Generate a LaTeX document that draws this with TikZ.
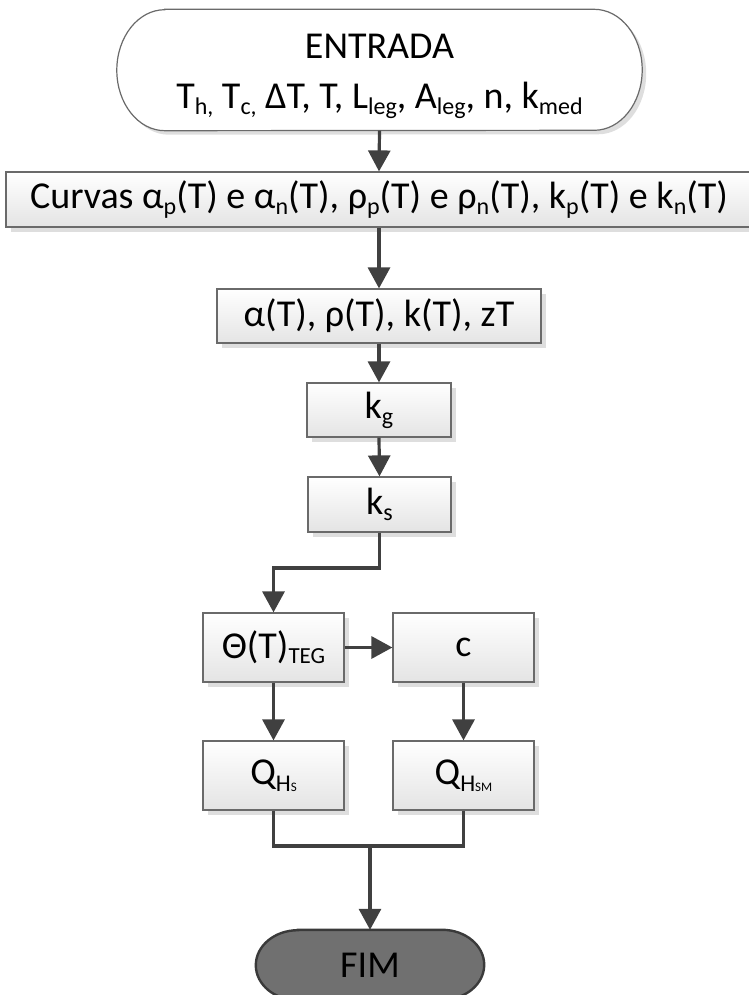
\documentclass[tikz,border=0pt]{standalone}
\usepackage{fontspec}
\setmainfont{Carlito}
\usetikzlibrary{arrows.meta,backgrounds,calc}

\definecolor{lineC}{HTML}{404040}
\definecolor{boxEdge}{HTML}{6A6A6A}
\definecolor{boxBot}{HTML}{E4E4E4}
\definecolor{shadowC}{HTML}{DEDEDE}
\definecolor{fimFill}{HTML}{707070}
\definecolor{fimEdge}{HTML}{3A3A3A}

% lowered, smaller text for indices
\newcommand\dsub[1]{\raisebox{-6pt}{\fontsize{24}{24}\selectfont #1}}
\newcommand\qsub[2]{\raisebox{-7pt}{\fontsize{24}{24}\selectfont #1\fontsize{13}{13}\selectfont #2}}

\tikzset{
  base font/.style={font=\fontsize{38}{50}\selectfont, inner sep=0pt},
  procbox/.style={base font, draw=boxEdge, line width=1.2pt,
    top color=white, bottom color=boxBot, shading angle=0,
    preaction={fill=shadowC, transform canvas={shift={(5pt,-5pt)}}}},
  termtext/.style={base font, align=center},
  flow/.style={draw=lineC, line width=3.2pt,
    -{Triangle[length=21pt,width=22pt]}},
  link/.style={draw=lineC, line width=3.2pt}
}

% stadium outline with elliptical ends, drawn around a node
\newcommand\stadium[4]{% node, x radius, half height, options
  \path[#4] ($(#1.north west)+(#2,0)$) -- ($(#1.north east)-(#2,0)$)
    arc[start angle=90, end angle=-90, x radius=#2, y radius=#3]
    -- ($(#1.south west)+(#2,0)$)
    arc[start angle=270, end angle=90, x radius=#2, y radius=#3] -- cycle;}

\begin{document}
\begin{tikzpicture}[x=1pt,y=1pt]
\useasboundingbox (0,0) rectangle (748,-995);

% terminal shapes (outline frames) and their labels
\node[base font, minimum width=525pt, minimum height=121pt] (ent) at (379.5,-70) {};
\node[base font, minimum width=228pt, minimum height=70pt] (fim) at (370,-965) {};

% process boxes
\node[procbox, minimum width=746pt, minimum height=55pt] (cur) at (379,-199.5)
  {Curvas α\dsub{p}(T) e α\dsub{n}(T), ρ\dsub{p}(T) e ρ\dsub{n}(T), k\dsub{p}(T) e k\dsub{n}(T)};
\node[procbox, minimum width=324pt, minimum height=54pt] (alp) at (379,-316)
  {α(T), ρ(T), k(T), zT};
\node[procbox, minimum width=144pt, minimum height=54pt] (kg) at (379,-410) {k\dsub{g}};
\node[procbox, minimum width=143pt, minimum height=55pt] (ks) at (379.5,-504.5) {k\dsub{s}};
\node[procbox, minimum width=141pt, minimum height=69pt] (th) at (273.5,-647.5)
  {Θ(T)\raisebox{-5pt}{\fontsize{23}{23}\selectfont TEG}};
\node[procbox, minimum width=141pt, minimum height=69pt] (c) at (463.5,-647.5) {c};
\node[procbox, minimum width=141pt, minimum height=69pt] (qs) at (273.5,-775.5)
  {Q\qsub{H}{S}};
\node[procbox, minimum width=141pt, minimum height=69pt] (qsm) at (463.5,-775.5)
  {Q\qsub{H}{SM}};

\begin{scope}[on background layer]
  \stadium{ent}{48pt}{60.5pt}{fill=shadowC, transform canvas={shift={(4pt,-4pt)}}}
  \stadium{ent}{48pt}{60.5pt}{fill=white, draw=boxEdge, line width=1.2pt}
  \stadium{fim}{42pt}{35pt}{fill=fimFill, draw=fimEdge, line width=2.4pt}
\end{scope}
\node[termtext] (entlabel) at ($(ent.center)+(0,-6)$)
  {ENTRADA\\ T\dsub{h,} T\dsub{c,} ΔT, T, L\dsub{leg}, A\dsub{leg}, n, k\dsub{med}};
\node[base font] (fimlabel) at (fim.center) {FIM};

% connectors
\coordinate (bend) at (379,-568);
\coordinate (join) at (370,-846);
\draw[flow] (ent.south) -- (cur.north);
\draw[flow] (cur.south) -- (alp.north);
\draw[flow] (alp.south) -- (kg.north);
\draw[flow] (kg.south) -- (ks.north);
\draw[flow] (ks.south) -- (ks.south |- bend) -| (th.north);
\draw[flow] (th.east) -- (c.west);
\draw[flow] (th.south) -- (qs.north);
\draw[flow] (c.south) -- (qsm.north);
\draw[link] (qs.south) |- (join);
\draw[link] (qsm.south) |- (join);
\draw[flow] (join) -- (fim.north);
\end{tikzpicture}
\end{document}
